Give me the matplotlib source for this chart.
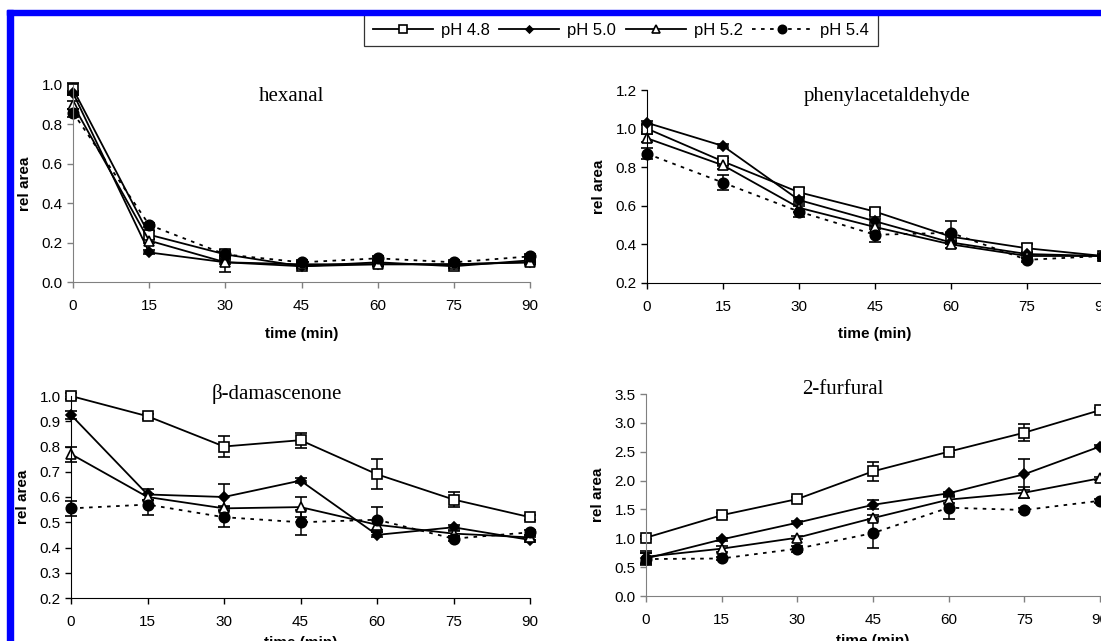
import matplotlib
matplotlib.use("Agg")
import matplotlib.pyplot as plt
from matplotlib.patches import Rectangle
from matplotlib.lines import Line2D

plt.rcParams["font.family"] = ["Liberation Sans", "DejaVu Sans"]

time_min = [0, 15, 30, 45, 60, 75, 90]
ph_labels = ["pH 4.8", "pH 5.0", "pH 5.2", "pH 5.4"]

# hexanal
hex_48 = [0.98, 0.24, 0.14, 0.08, 0.10, 0.08, 0.11]
hex_50 = [0.96, 0.15, 0.10, 0.08, 0.09, 0.09, 0.10]
hex_52 = [0.90, 0.21, 0.10, 0.09, 0.09, 0.09, 0.10]
hex_54 = [0.86, 0.29, 0.14, 0.10, 0.12, 0.10, 0.13]
hex_48_err = [0.03, 0.02, 0.02, 0.01, 0.01, 0.01, 0.01]
hex_50_err = [0.01, 0.01, 0.01, 0.01, 0.01, 0.01, 0.01]
hex_52_err = [0.02, 0.01, 0.05, 0.01, 0.01, 0.01, 0.01]
hex_54_err = [0.02, 0.01, 0.01, 0.01, 0.01, 0.01, 0.01]

# phenylacetaldehyde
phe_48 = [1.00, 0.83, 0.67, 0.57, 0.44, 0.38, 0.34]
phe_50 = [1.03, 0.91, 0.63, 0.52, 0.41, 0.35, 0.34]
phe_52 = [0.95, 0.81, 0.59, 0.49, 0.40, 0.34, 0.34]
phe_54 = [0.87, 0.72, 0.57, 0.45, 0.46, 0.32, 0.34]
phe_48_err = [0.02, 0.02, 0.02, 0.02, 0.02, 0.02, 0.01]
phe_50_err = [0.01, 0.01, 0.01, 0.01, 0.01, 0.01, 0.01]
phe_52_err = [0.02, 0.02, 0.02, 0.01, 0.02, 0.01, 0.01]
phe_54_err = [0.03, 0.04, 0.03, 0.04, 0.06, 0.01, 0.01]

# beta-damascenone
dam_48 = [1.00, 0.92, 0.80, 0.825, 0.69, 0.59, 0.52]
dam_50 = [0.925, 0.61, 0.60, 0.665, 0.45, 0.48, 0.43]
dam_52 = [0.77, 0.60, 0.555, 0.56, 0.49, 0.455, 0.44]
dam_54 = [0.555, 0.57, 0.52, 0.50, 0.51, 0.435, 0.46]
dam_48_err = [0.01, 0.01, 0.04, 0.03, 0.06, 0.03, 0.01]
dam_50_err = [0.015, 0.02, 0.05, 0.01, 0.01, 0.01, 0.01]
dam_52_err = [0.03, 0.01, 0.01, 0.04, 0.02, 0.01, 0.01]
dam_54_err = [0.03, 0.04, 0.04, 0.05, 0.05, 0.01, 0.01]

# 2-furfural
fur_48 = [1.01, 1.40, 1.68, 2.16, 2.50, 2.83, 3.22]
fur_50 = [0.65, 0.98, 1.27, 1.58, 1.78, 2.11, 2.59]
fur_52 = [0.68, 0.82, 1.01, 1.35, 1.67, 1.79, 2.04]
fur_54 = [0.64, 0.65, 0.82, 1.09, 1.53, 1.49, 1.65]
fur_48_err = [0.03, 0.03, 0.03, 0.17, 0.03, 0.15, 0.03]
fur_50_err = [0.10, 0.03, 0.03, 0.08, 0.03, 0.27, 0.03]
fur_52_err = [0.10, 0.05, 0.03, 0.05, 0.05, 0.10, 0.03]
fur_54_err = [0.10, 0.03, 0.05, 0.25, 0.20, 0.03, 0.03]

styles = [
    dict(marker="s", ms=7.5, mfc="white", mec="black", ls="-"),
    dict(marker="D", ms=5, mfc="black", mec="black", ls="-"),
    dict(marker="^", ms=7.5, mfc="white", mec="black", ls="-"),
    dict(marker="o", ms=7.5, mfc="black", mec="black", ls=(0, (2, 3))),
]

W, H = 1101, 641
fig = plt.figure(figsize=(W / 100, H / 100), dpi=100)


def px_axes(left, right, top, bottom):
    return fig.add_axes([left / W, 1 - bottom / H, (right - left) / W, (bottom - top) / H])


def panel(ax, series, errs, ylim, yticks, title, tx, ty, xlab_off, spine_col):
    for vals, err, st in zip(series, errs, styles):
        c = ax.errorbar(time_min, vals, yerr=err, color="black", lw=1.3,
                        ls=st["ls"], marker=st["marker"], ms=st["ms"],
                        mfc=st["mfc"], mec=st["mec"], mew=1.2,
                        ecolor="black", elinewidth=1.1, capsize=4, capthick=1.1)
        for art in c.get_children():
            art.set_clip_on(False)
    ax.set_xlim(0, 90)
    ax.set_ylim(*ylim)
    ax.set_xticks(time_min)
    ax.set_yticks(yticks)
    ax.set_yticklabels([f"{v:.1f}" for v in yticks])
    ax.spines["top"].set_visible(False)
    ax.spines["right"].set_visible(False)
    ax.spines["bottom"].set_color(spine_col)
    ax.spines["left"].set_color(spine_col)
    ax.tick_params(direction="out", length=4, width=1, colors=spine_col,
                   labelcolor="black", labelsize=11)
    ax.tick_params(axis="x", pad=8)
    ax.set_xlabel("time (min)", fontsize=11, fontweight="bold")
    ax.xaxis.set_label_coords(0.5, xlab_off)
    ax.set_ylabel("rel area", fontsize=11, fontweight="bold")
    ax.yaxis.set_label_coords(-0.09, 0.5)
    ax.text(tx, ty, title, transform=ax.transAxes, ha="center", va="center",
            fontsize=15, family="Liberation Serif")
    ax.patch.set_alpha(0)


ax1 = px_axes(73, 530, 85, 282)
panel(ax1, [hex_48, hex_50, hex_52, hex_54],
      [hex_48_err, hex_50_err, hex_52_err, hex_54_err],
      (0, 1.0), [0.0, 0.2, 0.4, 0.6, 0.8, 1.0], "hexanal", 0.477, 0.94,
      -0.23, "#808080")

ax2 = px_axes(647, 1103, 90, 283)
panel(ax2, [phe_48, phe_50, phe_52, phe_54],
      [phe_48_err, phe_50_err, phe_52_err, phe_54_err],
      (0.2, 1.2), [0.2, 0.4, 0.6, 0.8, 1.0, 1.2], "phenylacetaldehyde", 0.526, 0.965,
      -0.23, "black")

ax3 = px_axes(71, 530, 396, 598)
panel(ax3, [dam_48, dam_50, dam_52, dam_54],
      [dam_48_err, dam_50_err, dam_52_err, dam_54_err],
      (0.2, 1.0), [0.2, 0.3, 0.4, 0.5, 0.6, 0.7, 0.8, 0.9, 1.0], "β-damascenone",
      0.449, 1.01, -0.19, "black")

ax4 = px_axes(646, 1100, 394, 596)
panel(ax4, [fur_48, fur_50, fur_52, fur_54],
      [fur_48_err, fur_50_err, fur_52_err, fur_54_err],
      (0, 3.5), [0.0, 0.5, 1.0, 1.5, 2.0, 2.5, 3.0, 3.5], "2-furfural",
      0.434, 1.02, -0.19, "#808080")

handles = [Line2D([], [], color="black", lw=1.3, ls=st["ls"], marker=st["marker"],
                  ms=st["ms"] - 1.5, mfc=st["mfc"], mec=st["mec"], mew=1.2)
           for st in styles]
leg = fig.legend(handles, ph_labels, loc="upper center", bbox_to_anchor=(621 / W, 1 - 6 / H),
                 ncol=4, fontsize=12, frameon=True, fancybox=False, handlelength=3.6,
                 handletextpad=0.5, columnspacing=0.55, borderpad=0.5)
leg.get_frame().set_edgecolor("black")
leg.get_frame().set_linewidth(0.9)

# blue frame along top and left edges
fig.add_artist(Rectangle((7 / W, 1 - 15 / H), 1 - 7 / W, 5 / H, transform=fig.transFigure,
                         color="#0000ff", zorder=20))
fig.add_artist(Rectangle((7 / W, 0), 6 / W, 1 - 10 / H, transform=fig.transFigure,
                         color="#0000ff", zorder=20))

fig.savefig("out.png", dpi=100)
